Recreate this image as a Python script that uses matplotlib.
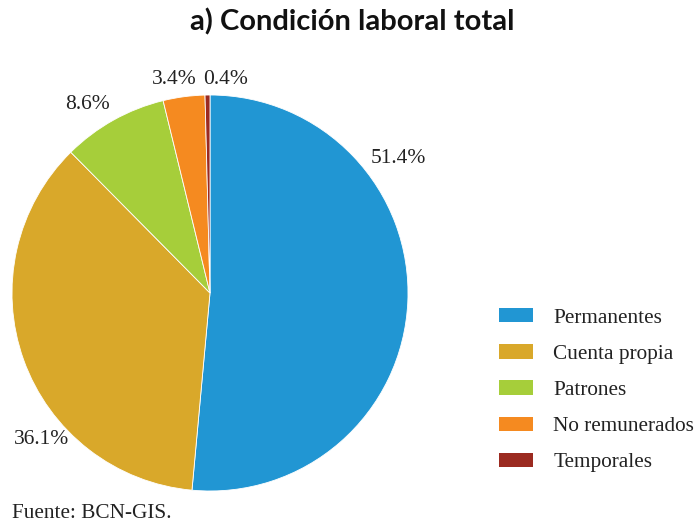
import matplotlib
matplotlib.use("Agg")
import matplotlib.pyplot as plt
from matplotlib.patches import Patch

categories = ["Permanentes", "Cuenta propia", "Patrones", "No remunerados", "Temporales"]
values = [51.4, 36.1, 8.6, 3.4, 0.4]
pct_labels = ["51.4%", "36.1%", "8.6%", "3.4%", "0.4%"]
colors = ["#2196D3", "#D9A82A", "#A6CE3A", "#F58A20", "#9B2A20"]
label_pos = [(0.95, 0.68), (-0.85, -0.74), (-0.62, 0.95), (-0.18, 1.08), (0.08, 1.08)]

W, H = 694, 530
fig = plt.figure(figsize=(W / 100, H / 100), dpi=100)
ax = fig.add_axes([12 / W, 39 / H, 396 / W, 396 / H])
ax.pie(values, colors=colors, startangle=90, counterclock=False,
       wedgeprops=dict(edgecolor="white", linewidth=0.6), radius=1)
ax.set_xlim(-1, 1)
ax.set_ylim(-1, 1)
ax.set_aspect("equal")
ax.axis("off")

serif = ["Liberation Serif", "DejaVu Serif"]
for (x, y), t in zip(label_pos, pct_labels):
    ax.text(x, y, t, ha="center", va="center", fontsize=15.5, family=serif, color="#222222")

fig.text(352 / W, 1 - 22 / H, "a) Condición laboral total", ha="center", va="center",
         fontsize=21, fontweight="bold", family=["Lato", "DejaVu Sans"], color="#111111")

fig.text(12 / W, 1 - 518 / H, "Fuente: BCN-GIS.", ha="left", va="baseline",
         fontsize=15.3, family=serif, color="#222222")

handles = [Patch(facecolor=c, edgecolor="none") for c in colors]
leg = fig.legend(handles, categories, loc="upper left",
                 bbox_to_anchor=(499 / W, 1 - 308 / H), frameon=False,
                 prop={"family": serif, "size": 15.3}, handlelength=1.6,
                 handleheight=0.66, handletextpad=0.95, labelspacing=0.78,
                 borderpad=0, borderaxespad=0)
for t in leg.get_texts():
    t.set_color("#222222")

fig.savefig("out.png", dpi=100)
